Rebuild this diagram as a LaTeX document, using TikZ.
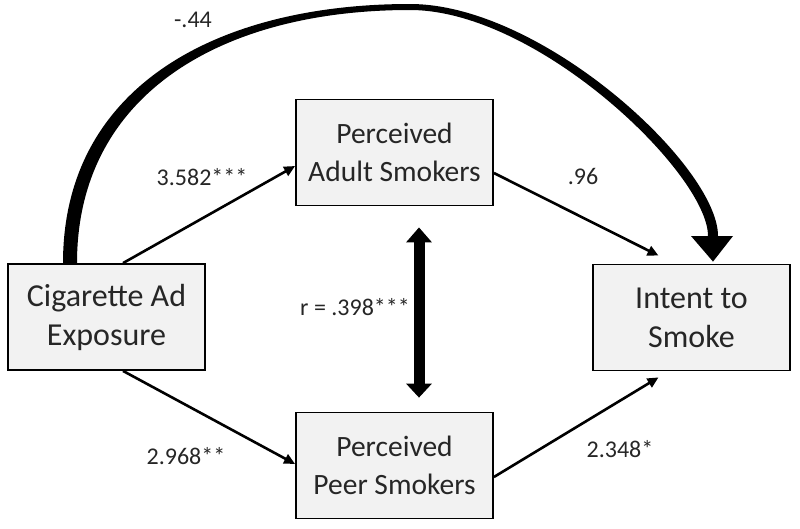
\documentclass[tikz,border=0pt]{standalone}
\usepackage{fontspec}
\setmainfont{Carlito}
\usetikzlibrary{arrows.meta,calc}
\begin{document}
\begin{tikzpicture}[x=1pt,y=-1pt,
  box/.style={draw=black,line width=1.8pt,fill=gray!10,minimum width=197pt,minimum height=106pt,align=center,text=black!85,inner sep=0pt},
  bigtxt/.style={font=\fontsize{32}{39}\selectfont},
  midtxt/.style={font=\fontsize{29.5}{38}\selectfont},
  lbl/.style={anchor=base,text=black!85,font=\fontsize{24}{28}\selectfont},
  arr/.style={line width=2.6pt,-{Triangle[length=11pt,width=10pt]}},
  dbl/.style={line width=11pt,{Triangle[length=15pt,width=25pt]}-{Triangle[length=14pt,width=25pt]}}]
\useasboundingbox (0,0) rectangle (800,528);
% boxes
\node[box,bigtxt] (cig) at (106.5,317) {Cigarette Ad\\Exposure};
\node[box,midtxt] (adult) at (394.5,152.5) {Perceived\\Adult Smokers};
\node[box,midtxt] (peer) at (394.5,465.5) {Perceived\\Peer Smokers};
\node[box,bigtxt] (intent) at (691.5,317.5) {Intent to\\Smoke};
% direct effect curve (tapered)
\coordinate (cs) at ([xshift=-36.5pt]cig.north);
\coordinate (ct) at ([xshift=21.5pt,yshift=2pt]intent.north);
\fill[black] ($(cs)+(-7,0)$) .. controls (63,86) and (218,4) .. (410,4)
  .. controls (542,4) and (718,166) .. (718,236)
  -- (733,236) -- (ct) -- (691,236) -- (708,236)
  .. controls (708,174) and (538,10) .. (410,10)
  .. controls (222,10) and (77,94) .. ($(cs)+(7,0)$) -- cycle;
% paths
\draw[arr] ([xshift=16.5pt]cig.north) -- ([yshift=-13.5pt]adult.west);
\draw[arr] ([xshift=16.5pt]cig.south) -- ([yshift=1.5pt]peer.west);
\draw[arr] ([yshift=-20.5pt]adult.east) -- ([xshift=-33pt,yshift=8pt]intent.north);
\draw[arr] ([yshift=-11.5pt]peer.east) -- ([xshift=-33pt,yshift=-6pt]intent.south);
\draw[dbl] ([xshift=24.5pt,yshift=-21pt]adult.south) -- ([xshift=24.5pt,yshift=14pt]peer.north);
% labels
\node[lbl] (l1) at (193,27) {-.44};
\node[lbl] (l2) at (202,185) {3.582***};
\node[lbl] (l3) at (583,184) {.96};
\node[lbl] (l4) at (355,315) {r = .398***};
\node[lbl] (l5) at (186,464) {2.968**};
\node[lbl] (l6) at (620,457) {2.348*};
\end{tikzpicture}
\end{document}
